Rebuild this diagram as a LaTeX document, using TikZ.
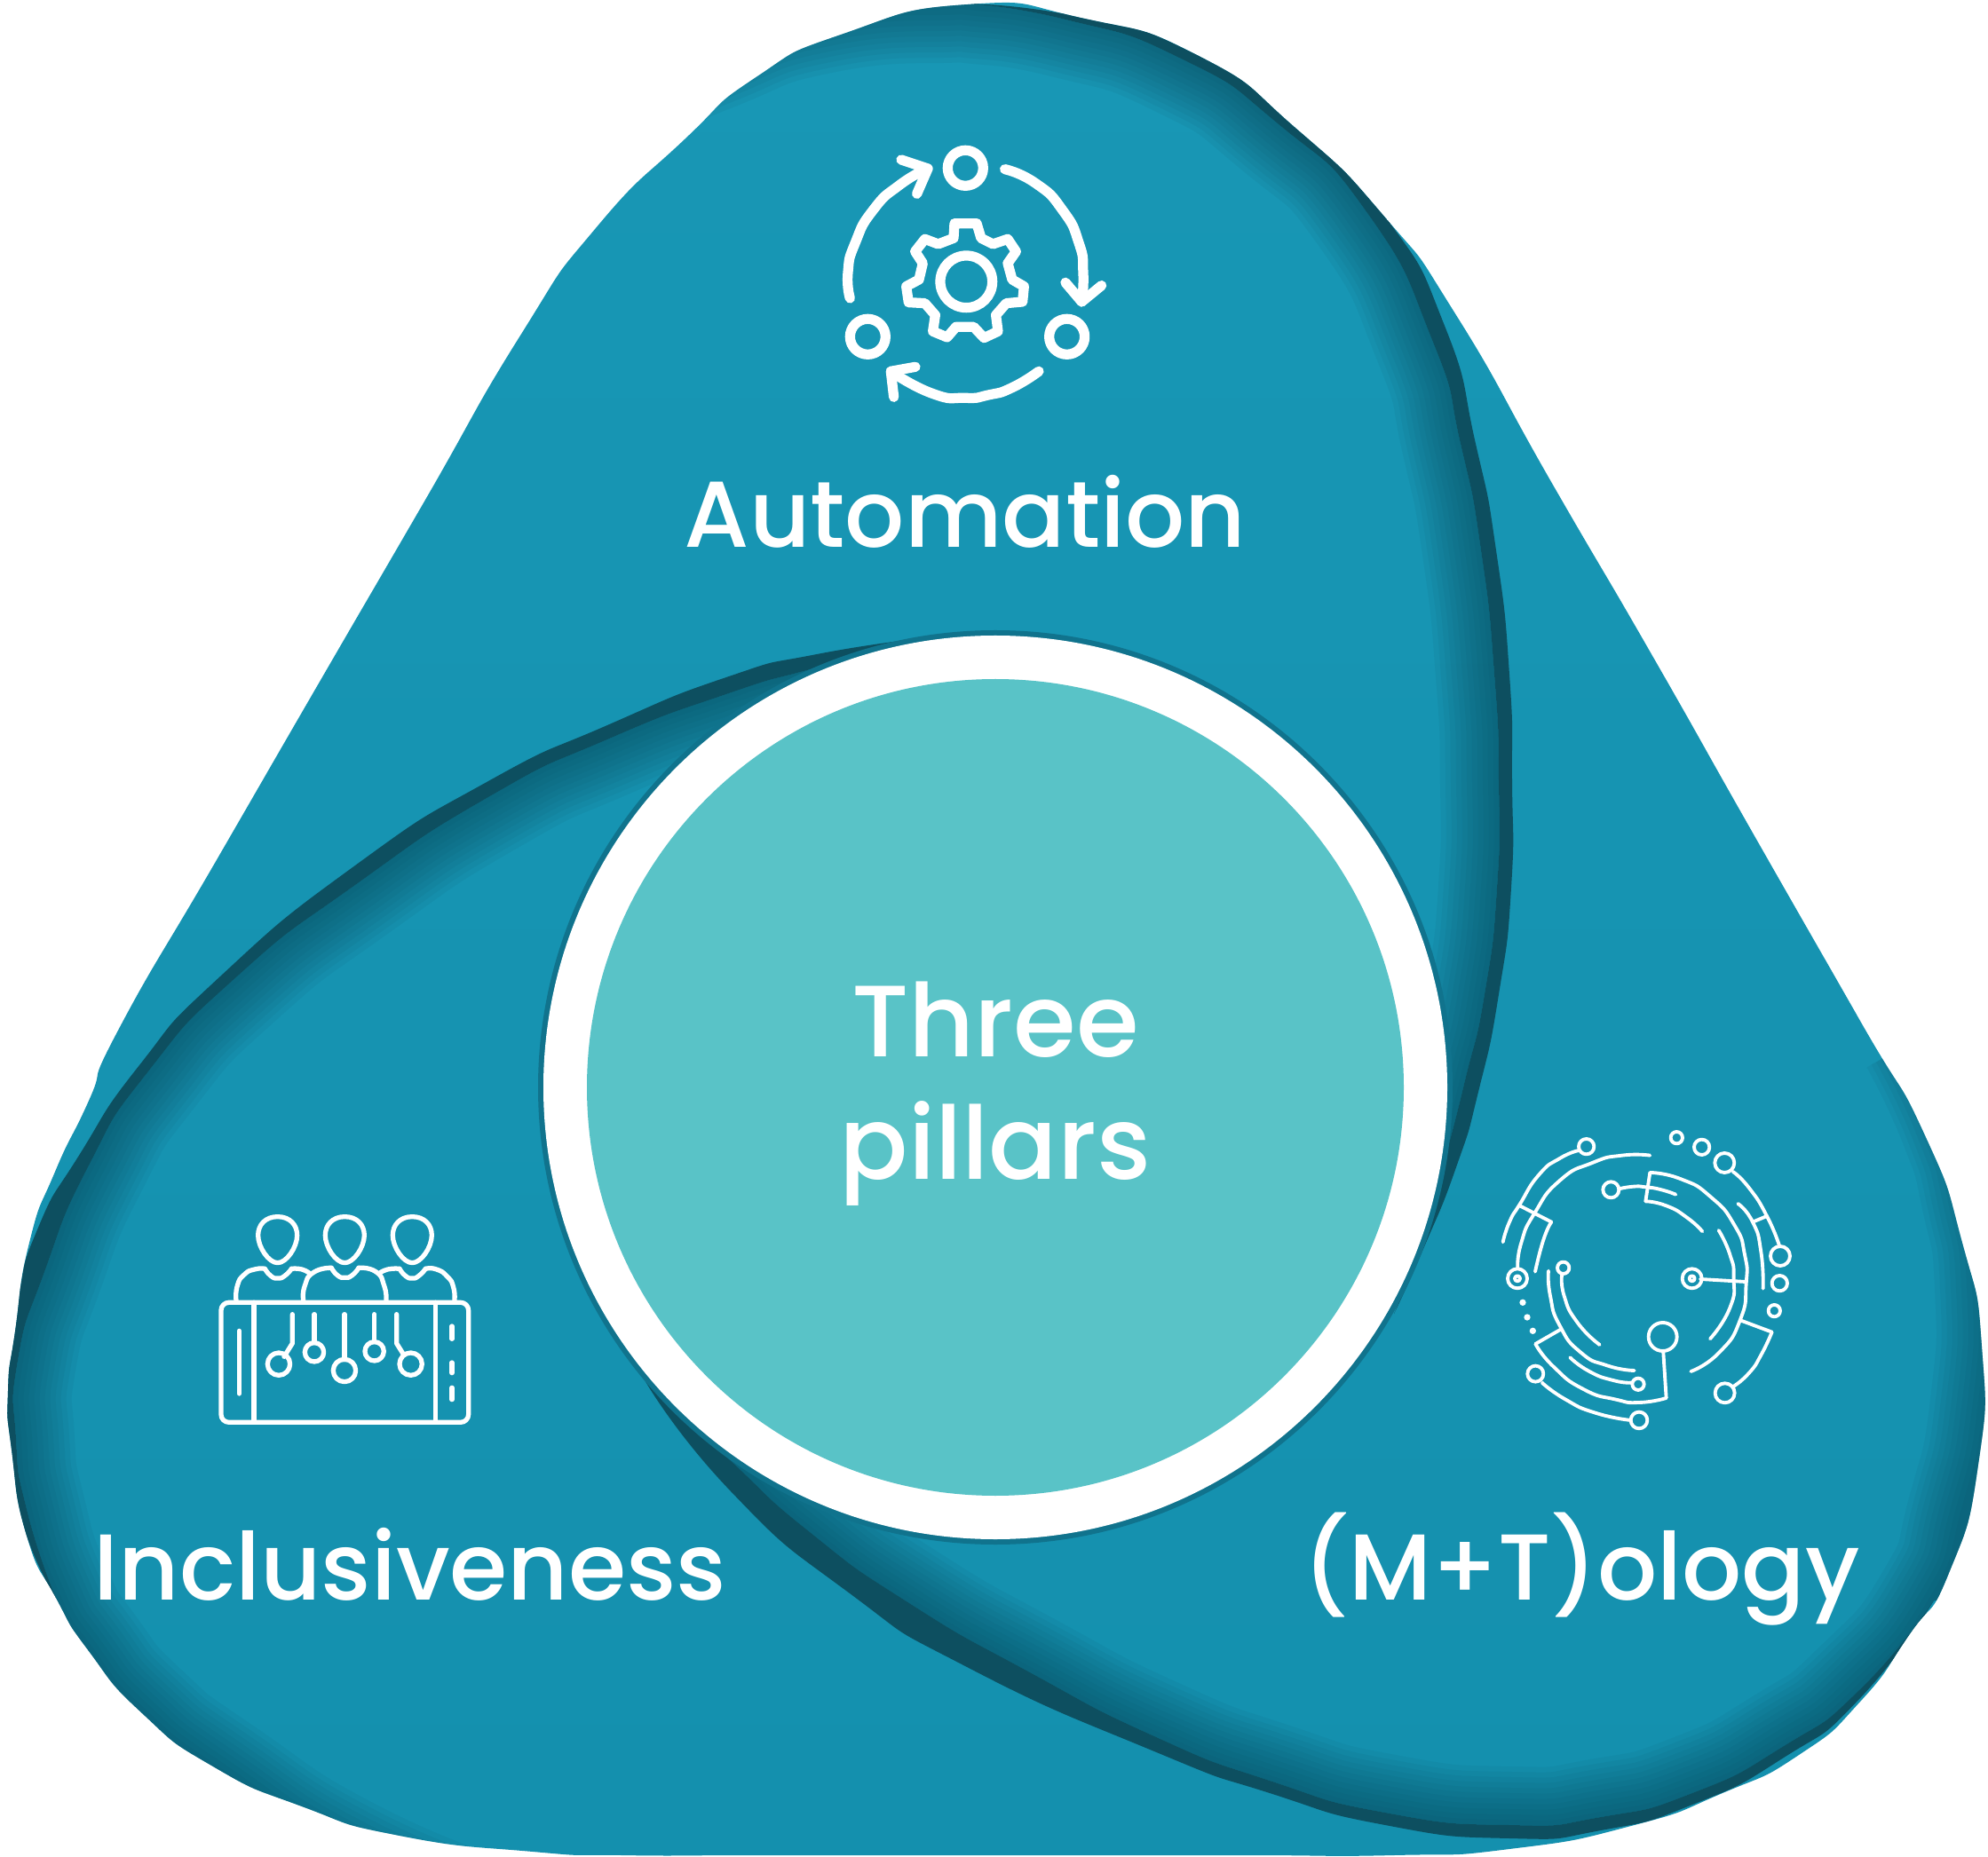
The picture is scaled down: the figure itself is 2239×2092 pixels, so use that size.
\documentclass[tikz,border=0pt]{standalone}
\usepackage{fontspec}
\setmainfont{Poppins Medium}
\definecolor{bladetop}{HTML}{1897B5}
\definecolor{bladebot}{HTML}{1490AE}
\definecolor{bandcol}{HTML}{0D4F60}
\definecolor{shadecol}{HTML}{0B4A5C}
\definecolor{rimcol}{HTML}{10738D}
\definecolor{corecol}{HTML}{59C3C7}

\tikzset{
	curve/.style={smooth,tension=1},
	iconfat/.style={draw=white,line width=3.2pt,line cap=round,line join=round},
	iconmid/.style={draw=white,line width=1.5pt,line cap=round,line join=round},
	iconthin/.style={draw=white,line width=1.1pt,line cap=round,line join=round},
	labeltext/.style={text=white,anchor=base,inner sep=0pt,font=\fontsize{30}{36}\selectfont},
	coretext/.style={text=white,anchor=base,inner sep=0pt,font=\fontsize{32.5}{40}\selectfont},
}

% outer outline of the three blades
\def\shapepath{plot[smooth cycle,tension=1] coordinates {(135,1157)(245,967)(360,768)(475,570)(586,378)(671,257)(771,157)(850,88)(950,38)(1090,5)(1217,20)(1350,63)(1460,145)(1560,245)(1640,355)(1750,548)(1860,737)(1975,940)(2095,1150)(2167,1277)(2210,1400)(2232,1517)(2228,1650)(2195,1772)(2150,1842)(2095,1917)(2026,1977)(1940,2020)(1837,2057)(1700,2083)(1570,2090)(1400,2090)(1200,2090)(1000,2090)(850,2090)(700,2090)(600,2086)(450,2068)(340,2035)(240,1990)(160,1930)(100,1860)(63,1800)(30,1730)(13,1633)(9,1567)(17,1500)(33,1400)(62,1320)(100,1240)}}

% edges of the dark bands
\def\inkA{(1083,4)(1200,22)(1330,66)(1440,140)(1540,240)(1613,383)(1645,500)(1668,620)(1683,760)(1688,880)(1686,1000)(1672,1120)(1650,1217)(1625,1315)(1600,1410)}
\def\outA{(1570,1480)(1603,1407)(1640,1315)(1665,1230)(1688,1120)(1702,1000)(1703,880)(1700,760)(1685,620)(1662,500)(1627,367)(1560,244)(1460,140)(1350,63)(1220,20)(1083,4)}
\def\inkB{(1054,717)(920,752)(818,782)(684,833)(550,898)(400,997)(267,1100)(167,1207)(100,1313)(50,1433)(20,1533)(18,1620)(30,1700)(60,1793)}
\def\outB{(63,1800)(30,1730)(12,1650)(8,1567)(20,1467)(43,1383)(90,1300)(157,1200)(248,1100)(400,975)(550,880)(684,817)(818,763)(920,737)(1054,717)}
\def\inkC{(725,1553)(819,1642)(912,1726)(1024,1806)(1158,1883)(1300,1956)(1430,2006)(1560,2042)(1700,2056)(1803,2047)(1906,2020)(2009,1967)(2095,1903)(2178,1803)}
\def\outC{(2178,1803)(2095,1913)(2009,1980)(1906,2033)(1803,2062)(1700,2071)(1560,2056)(1430,2020)(1300,1973)(1091,1879)(957,1795)(823,1680)(725,1553)}

\newcommand{\softedge}[1]{
	\foreach \d in {6,12,...,66}
		\draw[shadecol,opacity=.07,line width=\d*0.02cm,line join=round] plot[curve] coordinates {#1};
}

\begin{document}
\begin{tikzpicture}[x=0.01cm,y=-0.01cm]
\useasboundingbox (0,0) rectangle (2239,2092);

	% blades
\shade[top color=bladetop,bottom color=bladebot] \shapepath;

	% soft shadows
\begin{scope}
	\clip \shapepath;
	\begin{scope}
		\clip plot[curve] coordinates {\inkA} -- (0,1410) -- (0,-100) -- (1083,-100) -- cycle;
		\softedge{(690,110)(800,60)(930,16)(1083,4)\inkA}
	\end{scope}
	\begin{scope}
		\clip plot[curve] coordinates {\inkB} -- (-100,1793) -- (-100,2200) -- (1121,2200) -- (1121,717) -- cycle;
		\softedge{\inkB(100,1860)(160,1930)(250,2000)(400,2095)(560,2160)}
	\end{scope}
	\begin{scope}
		\clip plot[curve] coordinates {\inkC} -- (2300,1803) -- (2300,1100) -- (725,1100) -- cycle;
		\softedge{\inkC(2215,1700)(2240,1580)(2245,1450)(2230,1350)(2205,1265)(2160,1170)}
	\end{scope}

		% bands
	\fill[bandcol] plot[curve] coordinates {\inkA} -- plot[curve] coordinates {\outA} -- cycle;
	\fill[bandcol] plot[curve] coordinates {\inkB} -- plot[curve] coordinates {\outB} -- cycle;
	\fill[bandcol] plot[curve] coordinates {\inkC} -- plot[curve] coordinates {\outC} -- cycle;
\end{scope}

	% centre
\fill[rimcol] (1121,1225) circle (515);
\fill[white] (1121,1225) circle (509);
\fill[corecol] (1121,1225) circle (460);

	% automation icon
\begin{scope}[shift={(900,140)},scale=0.3333]
	\foreach \cx/\cy in {562/148,232/718,905/718}
		\draw[iconfat] (\cx,\cy) circle (60);
	\draw[iconfat] (565,532) circle (88);
	\draw[iconfat] (525,335) -- (600,335) -- (615,385) -- (655,405) -- (705,388) -- (733,430) -- (705,470) -- (720,525) -- (760,548) -- (755,600) -- (700,605) -- (665,645) -- (672,700) -- (625,722) -- (590,685) -- (530,685) -- (500,720) -- (452,700) -- (460,645) -- (425,605) -- (370,602) -- (362,548) -- (405,525) -- (418,470) -- (392,430) -- (425,388) -- (470,405) -- (522,385) -- cycle;
	\draw[iconfat] plot[curve] coordinates {(172,588)(165,500)(190,400)(250,290)(340,205)(435,150)};
	\draw[iconfat] (345,120) -- (435,150) -- (398,235);
	\draw[iconfat] plot[curve] coordinates {(695,152)(800,200)(890,290)(945,400)(960,500)(955,600)};
	\draw[iconfat] (900,535) -- (955,600) -- (1022,545);
	\draw[iconfat] plot[curve] coordinates {(810,835)(720,890)(640,915)(560,925)(450,910)(310,835)};
	\draw[iconfat] (393,820) -- (310,835) -- (320,922);
\end{scope}

	% inclusiveness icon
\begin{scope}[shift={(230,1350)},scale=0.3333]
	\foreach \cx in {248,475,703}
		\draw[iconmid] (\cx,62) .. controls (\cx+42,62) and (\cx+66,90) .. (\cx+66,125) .. controls (\cx+66,165) and (\cx+30,218) .. (\cx,218) .. controls (\cx-30,218) and (\cx-66,165) .. (\cx-66,125) .. controls (\cx-66,90) and (\cx-42,62) .. (\cx,62) -- cycle;
	\draw[iconmid] plot[curve] coordinates {(108,345)(112,295)(135,258)(170,240)(205,238)};
	\draw[iconmid] plot[curve] coordinates {(205,238)(225,262)(248,270)(272,262)(295,238)};
	\draw[iconmid] plot[curve] coordinates {(295,238)(330,240)(358,255)};
	\draw[iconmid] plot[curve] coordinates {(335,345)(340,295)(370,250)(430,235)};
	\draw[iconmid] plot[curve] coordinates {(430,235)(450,260)(475,268)(500,260)(522,235)};
	\draw[iconmid] plot[curve] coordinates {(522,235)(580,248)(608,295)(615,345)};
	\draw[iconmid] plot[curve] coordinates {(590,255)(620,240)(660,238)};
	\draw[iconmid] plot[curve] coordinates {(660,238)(680,262)(703,270)(725,262)(748,238)};
	\draw[iconmid] plot[curve] coordinates {(748,238)(785,240)(822,265)(842,300)(846,345)};
	\draw[iconmid,rounded corners=2.5pt] (57,352) rectangle (893,757);
	\draw[iconmid] (168,352) -- (168,757) (782,352) -- (782,757);
	\draw[iconmid] (118,448) -- (118,660);
	\draw[iconmid] (837,432) -- (837,475) (837,555) -- (837,590) (837,640) -- (837,680);
	\draw[iconmid] (298,392) -- (298,490) -- (270,535);
	\draw[iconmid] (372,392) -- (372,488);
	\draw[iconmid] (474,392) -- (474,545);
	\draw[iconmid] (575,392) -- (575,485);
	\draw[iconmid] (650,392) -- (650,490) -- (675,530);
	\foreach \cx/\cy/\r in {252/560/38,372/520/32,474/582/38,575/517/32,698/560/38}
		\draw[iconmid] (\cx,\cy) circle (\r);
\end{scope}

	% (m+t)ology icon
\begin{scope}[shift={(1670,1260)},scale=0.3333]
	\foreach \cx/\cy/\r in {350/95/26,655/65/20,740/97/26,817/150/33,1005/465/33,1003/557/26,985/650/20,433/241/27,117/541/33,707/541/33,272/505/20,608/738/48,525/898/20,178/863/27,528/1020/28,818/928/33,117/541/9,707/541/9}
		\draw[iconthin] (\cx,\cy) circle (\r);
	\foreach \cx/\cy in {135/622,150/672,169/718}
		\fill[white] (\cx,\cy) circle (11);
	\draw[iconthin] plot[curve] coordinates {(68,418)(90,350)(125,290)(190,190)(260,135)(325,108)};
	\draw[iconthin] plot[curve] coordinates {(118,505)(130,420)(175,320)(260,210)(370,150)(470,125)(565,125)};
	\draw[iconthin] (125,295) -- (232,350);
	\draw[iconthin] plot[curve] coordinates {(232,350)(205,410)(177,518)};
	\draw[iconthin] plot[curve] coordinates {(460,238)(510,230)(550,232)(600,240)(652,257)};
	\draw[iconthin] (565,183) -- (550,280);
	\draw[iconthin] plot[curve] coordinates {(550,280)(620,295)(690,335)(742,382)};
	\draw[iconthin] plot[curve] coordinates {(565,183)(670,205)(770,265)(850,360)(885,460)(890,560)(870,680)(800,790)(703,855)};
	\draw[iconthin] plot[curve] coordinates {(797,378)(835,460)(848,540)(835,640)(768,745)};
	\draw[iconthin] (735,543) -- (888,552);
	\draw[iconthin] plot[curve] coordinates {(845,180)(900,235)(960,330)(1002,430)};
	\draw[iconthin] (960,330) -- (912,350);
	\draw[iconthin] plot[curve] coordinates {(862,288)(912,350)(940,450)(947,575)};
	\draw[iconthin] (870,682) -- (977,722);
	\draw[iconthin] plot[curve] coordinates {(977,722)(940,800)(900,860)(848,905)};
	\draw[iconthin] plot[curve] coordinates {(222,515)(228,600)(260,700)(330,790)(420,835)(512,852)};
	\draw[iconthin] plot[curve] coordinates {(268,525)(275,600)(320,690)(395,765)};
	\draw[iconthin] plot[curve] coordinates {(295,808)(360,855)(440,885)(500,893)};
	\draw[iconthin] (265,712) -- (178,762);
	\draw[iconthin] plot[curve] coordinates {(178,762)(240,840)(340,915)(450,950)(530,960)(620,945)};
	\draw[iconthin] (620,945) -- (610,790);
	\draw[iconthin] plot[curve] coordinates {(200,893)(280,950)(380,995)(500,1020)};
\end{scope}

	% labels
\path
	(1087,617) node[labeltext] (automation) {Automation}
	(1121,1190) node[coretext] (three) {Three}
	(1121,1328) node[coretext] (pillars) {pillars}
	(462,1802) node[labeltext] (inclusiveness) {Inclusiveness}
	(1781,1802) node[labeltext] (mtology) {(M+T)ology}
	;
\end{tikzpicture}
\end{document}
